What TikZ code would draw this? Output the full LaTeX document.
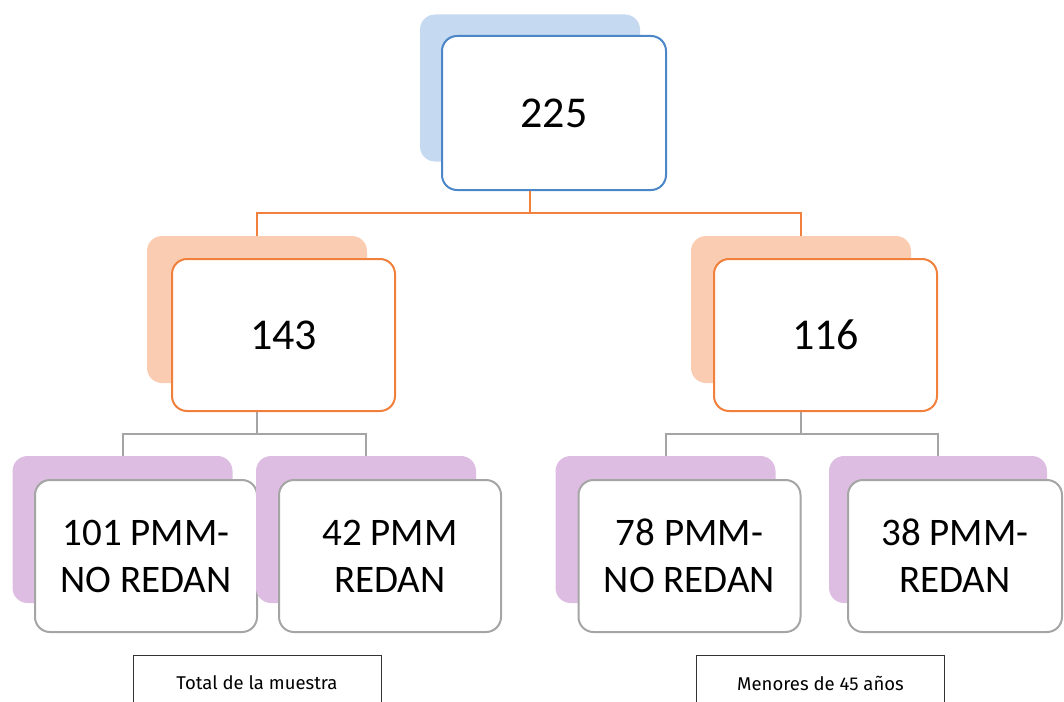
\documentclass[tikz,border=0pt]{standalone}
\usepackage{fontspec}
\newfontfamily\boxfont{Carlito}
\newfontfamily\notefont{Fira Sans}
\usetikzlibrary{positioning}
\definecolor{blueback}{RGB}{197,217,240}
\definecolor{blueline}{RGB}{74,134,200}
\definecolor{orangeback}{RGB}{250,205,178}
\definecolor{orangeline}{RGB}{240,128,60}
\definecolor{purpleback}{RGB}{221,190,226}
\definecolor{greyline}{RGB}{165,165,165}
\begin{document}
\begin{tikzpicture}[x=1pt,y=-1pt,
    every node/.style={shape=rectangle,rounded corners=15pt,inner sep=0pt},
    back/.style={minimum width=220pt,minimum height=147pt},
    front/.style={draw,line width=2pt,fill=white,minimum width=223pt,minimum height=152pt,align=center},
    big/.style={font=\boxfont\fontsize{44}{52}\selectfont},
    small/.style={font=\boxfont\fontsize{39}{47}\selectfont},
    orange link/.style={draw=orangeline,line width=2pt},
    grey link/.style={draw=greyline,line width=2pt},
    note/.style={rounded corners=0pt,draw=black!80,line width=1pt,minimum width=248pt,minimum height=56pt,font=\notefont\fontsize{18.5}{22}\selectfont},
  ]
    \useasboundingbox (0,0) rectangle (1064,701);
    % create the nodes
        \node[back,fill=blueback] (topb) at (530,88) {};
        \node[front,draw=blueline,minimum width=224pt,minimum height=154pt,big] (topf) at (554,113) {225};
        \node[back,fill=orangeback] (leftb) at (257,309.5) {};
        \node[front,draw=orangeline,big] (leftf) at (283.5,335) {143};
        \node[back,fill=orangeback] (rightb) at (801,309.5) {};
        \node[front,draw=orangeline,big] (rightf) at (825.5,335) {116};
        \node[back,fill=purpleback] (b1) at (122.5,529.5) {};
        \node[front,draw=greyline,minimum width=222pt,small] (f1) at (146,556) {101 PMM-\\NO REDAN};
        \node[back,fill=purpleback] (b2) at (366,529.5) {};
        \node[front,draw=greyline,minimum width=222pt,small] (f2) at (390,556) {42 PMM\\REDAN};
        \node[back,fill=purpleback] (b3) at (665.5,529.5) {};
        \node[front,draw=greyline,minimum width=222pt,small] (f3) at (689.5,556) {78 PMM-\\NO REDAN};
        \node[back,fill=purpleback,minimum width=218pt] (b4) at (938,529.5) {};
        \node[front,draw=greyline,minimum width=214pt,small] (f4) at (955,556) {38 PMM-\\REDAN};
        \node[note] (total) at (257,683) {Total de la muestra};
        \node[note] (menores) at (820.5,683) {Menores de 45 años};
    % connect them
        \draw[orange link] (topb |- topf.south) -- ++(0,22) -| (leftb.north);
        \draw[orange link] (topb |- topf.south) -- ++(0,22) -| (rightb.north);
        \draw[grey link] (leftb |- leftf.south) -- ++(0,22) -| (b1.north);
        \draw[grey link] (leftb |- leftf.south) -- ++(0,22) -| (b2.north);
        \draw[grey link] (rightb |- rightf.south) -- ++(0,22) -| (b3.north);
        \draw[grey link] (rightb |- rightf.south) -- ++(0,22) -| (b4.north);
\end{tikzpicture}
\end{document}
